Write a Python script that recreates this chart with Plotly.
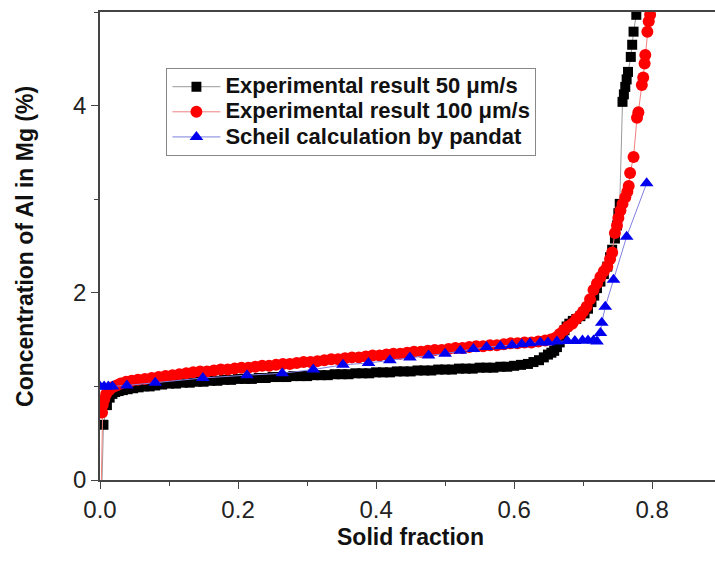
import plotly.graph_objects as go

# ---- data ----
x_50 = [0.003, 0.005, 0.010, 0.014, 0.018, 0.022, 0.027, 0.033, 0.040, 0.048, 0.056, 0.064, 0.072, 0.080,
        0.090, 0.100, 0.110, 0.120, 0.130, 0.140, 0.150, 0.160, 0.170, 0.180, 0.190, 0.200, 0.210, 0.220,
        0.230, 0.240, 0.250, 0.260, 0.270, 0.280, 0.290, 0.300, 0.310, 0.320, 0.330, 0.340, 0.350, 0.360,
        0.370, 0.380, 0.390, 0.400, 0.410, 0.420, 0.430, 0.440, 0.450, 0.460, 0.470, 0.480, 0.490, 0.500,
        0.510, 0.520, 0.530, 0.540, 0.550, 0.560, 0.570, 0.580, 0.590, 0.600, 0.610, 0.620, 0.628, 0.636,
        0.643, 0.649, 0.654, 0.658, 0.662, 0.666, 0.670, 0.673, 0.676, 0.680, 0.685, 0.690, 0.696, 0.702,
        0.707, 0.712, 0.716, 0.720, 0.725, 0.730, 0.735, 0.739, 0.742, 0.746, 0.749, 0.751, 0.753, 0.757,
        0.759, 0.761, 0.763, 0.765, 0.769, 0.771, 0.773, 0.777]
y_50 = [0.00, 0.59, 0.80, 0.88, 0.92, 0.94, 0.95, 0.96, 0.97, 0.98, 0.99, 1.00, 1.00, 1.01,
        1.02, 1.03, 1.03, 1.04, 1.04, 1.05, 1.05, 1.06, 1.06, 1.07, 1.07, 1.08, 1.08, 1.08,
        1.09, 1.09, 1.10, 1.10, 1.10, 1.11, 1.11, 1.11, 1.12, 1.12, 1.12, 1.13, 1.13, 1.13,
        1.14, 1.14, 1.14, 1.15, 1.15, 1.15, 1.16, 1.16, 1.16, 1.17, 1.17, 1.17, 1.18, 1.18,
        1.18, 1.19, 1.19, 1.19, 1.20, 1.20, 1.20, 1.21, 1.21, 1.22, 1.23, 1.24, 1.26, 1.28,
        1.31, 1.34, 1.36, 1.38, 1.42, 1.47, 1.54, 1.60, 1.64, 1.67, 1.70, 1.72, 1.75, 1.78,
        1.83, 1.90, 1.97, 2.05, 2.12, 2.20, 2.28, 2.38, 2.46, 2.58, 2.72, 2.85, 2.95, 4.04,
        4.12, 4.20, 4.28, 4.36, 4.52, 4.65, 4.79, 4.97]

x_100 = [0.002, 0.003, 0.004, 0.006, 0.009, 0.013, 0.018, 0.024, 0.030, 0.038, 0.046, 0.055, 0.065, 0.075,
         0.085, 0.095, 0.105, 0.115, 0.125, 0.135, 0.145, 0.155, 0.165, 0.175, 0.185, 0.195, 0.205, 0.215,
         0.225, 0.235, 0.245, 0.255, 0.265, 0.275, 0.285, 0.295, 0.305, 0.315, 0.325, 0.335, 0.345, 0.355,
         0.365, 0.375, 0.385, 0.395, 0.405, 0.415, 0.425, 0.435, 0.445, 0.455, 0.465, 0.475, 0.485, 0.495,
         0.505, 0.515, 0.525, 0.535, 0.545, 0.555, 0.565, 0.575, 0.585, 0.595, 0.605, 0.615, 0.625, 0.635,
         0.645, 0.653, 0.660, 0.666, 0.672, 0.678, 0.684, 0.690, 0.696, 0.700, 0.705, 0.710, 0.715, 0.720,
         0.725, 0.730, 0.735, 0.739, 0.742, 0.746, 0.749, 0.751, 0.754, 0.757, 0.761, 0.764, 0.766, 0.768,
         0.773, 0.778, 0.780, 0.785, 0.787, 0.789, 0.790, 0.793, 0.795, 0.797]
y_100 = [0.00, 0.72, 0.80, 0.86, 0.92, 0.96, 0.99, 1.01, 1.03, 1.05, 1.06, 1.07, 1.08, 1.09,
         1.10, 1.11, 1.12, 1.13, 1.14, 1.15, 1.16, 1.16, 1.17, 1.18, 1.18, 1.19, 1.20, 1.20,
         1.21, 1.22, 1.22, 1.23, 1.24, 1.24, 1.25, 1.26, 1.26, 1.27, 1.28, 1.29, 1.29, 1.30,
         1.31, 1.31, 1.32, 1.33, 1.33, 1.34, 1.35, 1.35, 1.36, 1.37, 1.37, 1.38, 1.39, 1.39,
         1.40, 1.41, 1.41, 1.42, 1.43, 1.43, 1.44, 1.44, 1.45, 1.46, 1.46, 1.47, 1.47, 1.48,
         1.49, 1.50, 1.52, 1.56, 1.60, 1.64, 1.67, 1.72, 1.76, 1.80, 1.85, 1.93, 2.03, 2.10,
         2.17, 2.23, 2.28, 2.36, 2.43, 2.64, 2.72, 2.80, 2.88, 2.95, 3.02, 3.08, 3.14, 3.28,
         3.45, 3.87, 3.93, 4.22, 4.30, 4.45, 4.54, 4.79, 4.90, 4.97]

x_scheil = [0.000, 0.006, 0.012, 0.018, 0.039, 0.080, 0.149, 0.213, 0.264, 0.309, 0.352, 0.389, 0.420,
            0.449, 0.476, 0.500, 0.522, 0.541, 0.560, 0.580, 0.597, 0.611, 0.623, 0.638, 0.649, 0.662,
            0.677, 0.688, 0.699, 0.707, 0.715, 0.720, 0.725, 0.727, 0.732, 0.744, 0.763, 0.792]
y_scheil = [1.00, 1.00, 1.00, 1.00, 1.01, 1.04, 1.09, 1.12, 1.14, 1.18, 1.23, 1.25, 1.28,
            1.31, 1.33, 1.35, 1.38, 1.40, 1.42, 1.43, 1.44, 1.45, 1.46, 1.47, 1.47, 1.48,
            1.485, 1.485, 1.49, 1.49, 1.49, 1.48, 1.57, 1.68, 1.85, 2.14, 2.60, 3.17]

names = ["Experimental result 50 \u03bcm/s", "Experimental result 100 \u03bcm/s", "Scheil calculation by pandat"]
x_title = "Solid fraction"
y_title = "Concentration of Al in Mg (%)"

FONT = "Liberation Sans, Arial, sans-serif"


def leg(s):
    return '<span style="font-size:22px"><b>' + s + '</b></span>'


size_50 = [0] + [10] * (len(x_50) - 1)
size_100 = [0] + [12] * (len(x_100) - 1)

fig = go.Figure()
fig.add_trace(go.Scatter(x=x_50, y=y_50, name=leg(names[0]), mode="lines+markers",
                         line=dict(color="#9a9a9a", width=1),
                         marker=dict(symbol="square", size=size_50, color="#000000", opacity=1,
                                     line=dict(width=0))))
fig.add_trace(go.Scatter(x=x_100, y=y_100, name=leg(names[1]), mode="lines+markers",
                         line=dict(color="#f08080", width=1),
                         marker=dict(symbol="circle", size=size_100, color="#ff0000", opacity=1,
                                     line=dict(width=0))))
fig.add_trace(go.Scatter(x=x_scheil, y=y_scheil, name=leg(names[2]), mode="lines+markers",
                         line=dict(color="#8080e0", width=1),
                         marker=dict(symbol="triangle-up", size=12, color="#0000ee", opacity=1,
                                     line=dict(width=0))))

axis_common = dict(showline=True, linecolor="#444444", linewidth=1.5, ticks="outside", ticklen=7,
                   tickwidth=1.2, tickcolor="#444444", showgrid=False, zeroline=False,
                   tickfont=dict(family=FONT, size=24, color="#222222"))

fig.update_xaxes(range=[0, 0.891], dtick=0.2, tick0=0, tickformat=".1f", mirror=True,
                 minor=dict(dtick=0.1, ticks="outside", ticklen=4, tickcolor="#444444"),
                 **axis_common)
fig.update_yaxes(range=[0, 5], dtick=2, tick0=0, mirror=False,
                 minor=dict(dtick=1, ticks="outside", ticklen=4, tickcolor="#444444"),
                 **axis_common)

fig.add_annotation(text="<b>" + x_title + "</b>", xref="paper", yref="paper",
                   x=0.45 / 0.891, y=-0.122, xanchor="center", yanchor="middle", showarrow=False,
                   font=dict(family=FONT, size=23, color="#111111"))
fig.add_annotation(text="<b>" + y_title + "</b>", xref="paper", yref="paper",
                   x=-0.122, y=0.5, xanchor="center", yanchor="middle", showarrow=False, textangle=-90,
                   font=dict(family=FONT, size=23, color="#111111"))

fig.update_layout(
    width=715, height=564,
    margin=dict(l=100, r=0, t=12, b=84),
    paper_bgcolor="white", plot_bgcolor="white",
    showlegend=True,
    legend=dict(x=0.108, y=0.88, xanchor="left", yanchor="top",
                bgcolor="white", bordercolor="#888888", borderwidth=1,
                font=dict(family=FONT, size=17, color="#111111"),
                tracegroupgap=0, itemwidth=48),
)

fig.write_html("out.html")
